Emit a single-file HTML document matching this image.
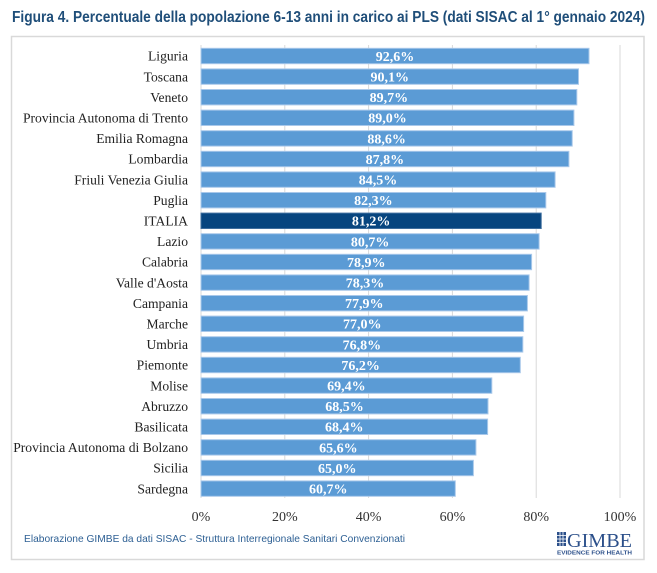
<!DOCTYPE html>
<html>
<head>
<meta charset="utf-8">
<style>
html,body{margin:0;padding:0;background:#ffffff;}
svg{display:block;}
</style>
</head>
<body>
<svg width="657" height="573" viewBox="0 0 657 573" xmlns="http://www.w3.org/2000/svg">
<rect x="0" y="0" width="657" height="573" fill="#ffffff"/>
<text x="12" y="22" font-family="Liberation Sans, sans-serif" font-weight="bold" font-size="15.5" fill="#1f4e79" textLength="633" lengthAdjust="spacingAndGlyphs">Figura 4. Percentuale della popolazione 6-13 anni in carico ai PLS (dati SISAC al 1° gennaio 2024)</text>
<rect x="11.5" y="36.5" width="632.5" height="523" fill="#ffffff" stroke="#d9d9d9" stroke-width="1.5"/>
<g stroke="#d9d9d9" stroke-width="1">
<line x1="201" y1="45" x2="201" y2="498"/>
<line x1="284.8" y1="45" x2="284.8" y2="498"/>
<line x1="368.6" y1="45" x2="368.6" y2="498"/>
<line x1="452.4" y1="45" x2="452.4" y2="498"/>
<line x1="536.2" y1="45" x2="536.2" y2="498"/>
<line x1="620" y1="45" x2="620" y2="498"/>
</g>
<g font-family="Liberation Serif, serif" font-size="14" fill="#333333" text-anchor="middle">
<text x="201" y="521">0%</text>
<text x="284.8" y="521">20%</text>
<text x="368.6" y="521">40%</text>
<text x="452.4" y="521">60%</text>
<text x="536.2" y="521">80%</text>
<text x="620" y="521">100%</text>
</g>
<text x="24" y="542" font-family="Liberation Sans, sans-serif" font-size="10.5" fill="#2e6094" textLength="381" lengthAdjust="spacingAndGlyphs">Elaborazione GIMBE da dati SISAC - Struttura Interregionale Sanitari Convenzionati</text>
<g>
<rect x="557" y="532" width="9" height="14" fill="#2b4f8a"/>
<g stroke="#ffffff" stroke-width="0.8">
<line x1="557" y1="535.5" x2="566" y2="535.5"/>
<line x1="557" y1="539" x2="566" y2="539"/>
<line x1="557" y1="542.5" x2="566" y2="542.5"/>
<line x1="560" y1="532" x2="560" y2="546"/>
<line x1="563" y1="532" x2="563" y2="546"/>
</g>
<text x="567" y="547" font-family="Liberation Serif, serif" font-size="20" fill="#2b4f8a" textLength="65" lengthAdjust="spacingAndGlyphs">GIMBE</text>
<text x="557" y="554.5" font-family="Liberation Sans, sans-serif" font-weight="bold" font-size="5.5" fill="#2b4f8a" textLength="75" lengthAdjust="spacingAndGlyphs">EVIDENCE FOR HEALTH</text>
</g>
<g font-family="Liberation Serif, serif">
<g font-size="13.6" fill="#222" text-anchor="end">
<text x="188" y="60.7">Liguria</text>
<text x="188" y="81.3">Toscana</text>
<text x="188" y="101.9">Veneto</text>
<text x="188" y="122.5">Provincia Autonoma di Trento</text>
<text x="188" y="143.1">Emilia Romagna</text>
<text x="188" y="163.7">Lombardia</text>
<text x="188" y="184.3">Friuli Venezia Giulia</text>
<text x="188" y="204.9">Puglia</text>
<text x="188" y="225.5">ITALIA</text>
<text x="188" y="246.1">Lazio</text>
<text x="188" y="266.7">Calabria</text>
<text x="188" y="287.3">Valle d'Aosta</text>
<text x="188" y="307.9">Campania</text>
<text x="188" y="328.5">Marche</text>
<text x="188" y="349.1">Umbria</text>
<text x="188" y="369.7">Piemonte</text>
<text x="188" y="390.3">Molise</text>
<text x="188" y="410.9">Abruzzo</text>
<text x="188" y="431.5">Basilicata</text>
<text x="188" y="452.1">Provincia Autonoma di Bolzano</text>
<text x="188" y="472.7">Sicilia</text>
<text x="188" y="493.3">Sardegna</text>
</g>
<g stroke="#a9c8ea" stroke-width="1" fill="#5b9bd5">
<rect x="201" y="48.3" width="388" height="15.4"/>
<rect x="201" y="68.9" width="377.5" height="15.4"/>
<rect x="201" y="89.5" width="375.8" height="15.4"/>
<rect x="201" y="110.1" width="372.9" height="15.4"/>
<rect x="201" y="130.7" width="371.2" height="15.4"/>
<rect x="201" y="151.3" width="367.9" height="15.4"/>
<rect x="201" y="171.9" width="354.1" height="15.4"/>
<rect x="201" y="192.5" width="344.8" height="15.4"/>
<rect x="201" y="213.1" width="340.2" height="15.4" fill="#07457f" stroke="#3f6e9e"/>
<rect x="201" y="233.7" width="338.1" height="15.4"/>
<rect x="201" y="254.3" width="330.6" height="15.4"/>
<rect x="201" y="274.9" width="328.1" height="15.4"/>
<rect x="201" y="295.5" width="326.4" height="15.4"/>
<rect x="201" y="316.1" width="322.6" height="15.4"/>
<rect x="201" y="336.7" width="321.8" height="15.4"/>
<rect x="201" y="357.3" width="319.3" height="15.4"/>
<rect x="201" y="377.9" width="290.8" height="15.4"/>
<rect x="201" y="398.5" width="287" height="15.4"/>
<rect x="201" y="419.1" width="286.6" height="15.4"/>
<rect x="201" y="439.7" width="274.9" height="15.4"/>
<rect x="201" y="460.3" width="272.4" height="15.4"/>
<rect x="201" y="480.9" width="254.3" height="15.4"/>
</g>
<g font-size="14" fill="#fff" font-weight="bold" text-anchor="middle">
<text x="395" y="60.9">92,6%</text>
<text x="389.8" y="81.5">90,1%</text>
<text x="388.9" y="102.1">89,7%</text>
<text x="387.5" y="122.7">89,0%</text>
<text x="386.6" y="143.3">88,6%</text>
<text x="384.9" y="163.9">87,8%</text>
<text x="378" y="184.5">84,5%</text>
<text x="373.4" y="205.1">82,3%</text>
<text x="371.1" y="225.7">81,2%</text>
<text x="370.1" y="246.3">80,7%</text>
<text x="366.3" y="266.9">78,9%</text>
<text x="365" y="287.5">78,3%</text>
<text x="364.2" y="308.1">77,9%</text>
<text x="362.3" y="328.7">77,0%</text>
<text x="361.9" y="349.3">76,8%</text>
<text x="360.6" y="369.9">76,2%</text>
<text x="346.4" y="390.5">69,4%</text>
<text x="344.5" y="411.1">68,5%</text>
<text x="344.3" y="431.7">68,4%</text>
<text x="338.4" y="452.3">65,6%</text>
<text x="337.2" y="472.9">65,0%</text>
<text x="328.2" y="493.5">60,7%</text>
</g>
</g>
</svg>
</body>
</html>
